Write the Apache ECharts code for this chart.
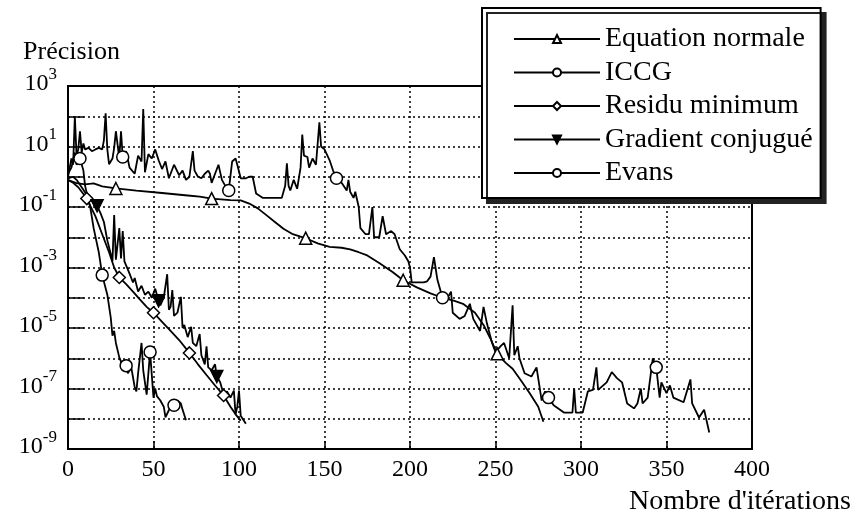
<!DOCTYPE html>
<html>
<head>
<meta charset="utf-8">
<script src="https://cdn.jsdelivr.net/npm/echarts@6/dist/echarts.min.js"></script>
<style>
  html, body { margin: 0; padding: 0; background: #fff; }
  #chart { width: 855px; height: 513px; }
</style>
</head>
<body>
<div id="chart"></div>
<script>
// Convergence history: precision vs iteration count for five solvers.
const seriesNames = ['Equation normale', 'ICCG', 'Residu minimum', 'Gradient conjugué', 'Evans'];

// Iteration ticks and the decades that carry a label.
const xTicks = [0, 50, 100, 150, 200, 250, 300, 350, 400];
const yLabelExponents = [3, 1, -1, -3, -5, -7, -9];

// [iteration, precision] pairs, plus the iterations that carry a marker.
const equationNormale = [[0,0.78],[5,0.62],[10,0.56],[15,0.6],[20,0.48],[28,0.41],[40,0.35],[55,0.29],[70,0.24],[77,0.22],[84,0.19],[95,0.17],[101,0.166],[106,0.13],[111,0.09],[116,0.054],[121,0.032],[126,0.019],[131,0.013],[136,0.0105],[139,0.0093],[146,6.3e-3],[153,4.8e-3],[160,4.5e-3],[165,4e-3],[170,3.2e-3],[175,2.5e-3],[182,1.4e-3],[190,7e-4],[196,3.8e-4],[204,2.2e-4],[212,1.4e-4],[219,1e-4],[226,7.9e-5],[231,6.3e-5],[238,3.2e-5],[243,1.26e-5],[247,4.5e-6],[251,1.4e-6],[256,7e-7],[260,4.5e-7],[265,1.8e-7],[270,7e-8],[275,2.5e-8],[278,8e-9]];
const equationMarks = [28, 84, 139, 196, 251];

const iccg = [[0,1.26],[2,2],[4,6.3],[5,2.5],[7,4],[9,1.6],[10,0.5],[12,0.16],[13,0.1],[15,0.02],[18,3.2e-3],[20,5.6e-4],[23,1.26e-4],[25,2.2e-5],[26,5.6e-6],[27,8e-6],[28,3.2e-6],[30,1.07e-6],[32,5.6e-7],[34,5.7e-7],[35,3.2e-7],[37,5e-7],[39,1.12e-7],[40,8e-8],[41,3.2e-7],[43,3.2e-6],[44,4e-7],[46,6.3e-8],[48,1.6e-6],[50,5e-8],[51,1e-7],[52,5.6e-8],[54,4e-8],[56,2.5e-8],[57,1.12e-8],[60,2.5e-8],[62,2.8e-8],[64,4e-8],[66,3.2e-8],[67,2e-8],[69,8.9e-9]];
const iccgMarks = [7, 20, 34, 48, 62];

const residuMinimum = [[0,0.79],[3,0.63],[6,0.45],[8,0.32],[11,0.19],[13,0.11],[16,0.05],[20,0.0126],[24,3.2e-3],[27,1e-3],[30,4.7e-4],[34,2.8e-4],[38,1.6e-4],[42,8.9e-5],[46,5e-5],[50,3.2e-5],[55,1.6e-5],[60,8e-6],[65,4e-6],[71,1.5e-6],[76,6.3e-7],[81,2.8e-7],[86,1.26e-7],[91,5.9e-8],[95,2.5e-8],[98,1.4e-8],[101,8.7e-9]];
const residuMarks = [11, 30, 50, 71, 91];

const gradientConjugue = [[0,0.89],[3,1],[5,0.79],[8,0.45],[11,0.25],[14,0.16],[17,0.11],[19,0.063],[21,0.032],[23,7.9e-3],[25,2.8e-3],[26,1.6e-3],[27,0.054],[28,1.8e-3],[30,0.02],[31,2e-3],[32,0.016],[33,1.6e-3],[36,6.3e-4],[38,3.2e-4],[39,4.5e-4],[41,1.6e-4],[43,2.5e-4],[45,1.26e-4],[47,1.6e-4],[49,1e-4],[51,2e-4],[53,7.9e-5],[54,5.6e-5],[56,1e-4],[58,6e-4],[59,4e-5],[60,5e-5],[61,1.8e-4],[62,2.5e-5],[64,3.2e-5],[66,1.07e-4],[67,1e-5],[68,1.26e-5],[70,5e-6],[72,1.1e-5],[73,3.2e-6],[75,2.5e-6],[77,6.3e-6],[78,1.26e-6],[80,6.3e-7],[81,2.5e-6],[82,5e-7],[84,4e-7],[86,6.3e-7],[87,2.5e-7],[89,1.6e-7],[91,6.3e-8],[93,8e-8],[95,5e-8],[97,8.5e-8],[98,1.4e-8],[99,2.5e-8],[100,8.5e-8],[101,1.26e-8],[104,6.8e-9]];
const gradientMarks = [17, 53, 87];

const evans = [[0,1],[1,2],[2,4],[3,2.5],[4,100],[5,5],[6,8],[7,32],[8,6.3],[9,12.6],[10,8],[12,9],[14,7],[16,8],[18,9],[20,8],[21,16],[22,126],[23,8],[24,2.6],[26,4],[27,9],[28,32],[30,4],[31,32],[32,4.5],[34,7],[36,2],[39,1.26],[41,5],[43,3.2],[44,174],[45,1.4],[47,5.6],[49,4],[51,8],[53,3.5],[55,1.8],[57,3.2],[59,0.89],[62,2.5],[65,1.12],[67,1.6],[69,0.79],[71,1],[73,7],[74,1.6],[76,1],[78,0.89],[80,1.26],[82,1.6],[83,1.26],[84,0.63],[86,1.26],[88,2.5],[90,0.79],[92,0.5],[94,0.35],[96,3.2],[98,4],[99,2.5],[101,0.89],[104,0.89],[106,1],[108,1],[110,0.28],[114,0.2],[118,0.2],[122,0.2],[125,0.2],[127,0.5],[128,2.8],[129,0.5],[130,0.35],[132,0.79],[134,0.4],[136,2],[137,25],[138,5],[140,4.5],[141,2],[143,4],[145,2.5],[147,63],[148,10],[150,8],[153,3.5],[155,1.6],[157,0.89],[160,0.63],[163,0.35],[164,0.79],[165,0.32],[167,0.2],[168,0.32],[170,0.1],[171,0.02],[174,0.0126],[176,0.0126],[178,0.1],[179,0.01],[182,0.01],[184,0.05],[186,0.0126],[189,0.016],[191,0.0126],[194,4e-3],[197,2.5e-3],[199,1.6e-3],[200,1e-3],[201,3.2e-4],[204,3.2e-4],[208,3.2e-4],[210,3.5e-4],[212,5e-4],[214,2.2e-3],[216,4e-4],[219,1e-4],[222,1e-4],[224,1.6e-4],[225,3.2e-5],[229,2e-5],[232,2.5e-5],[235,6.3e-5],[237,2e-5],[241,8e-6],[243,5e-5],[245,1.4e-5],[248,3.2e-6],[250,1.6e-6],[253,2.5e-6],[255,3.2e-6],[258,1e-6],[260,5.6e-5],[261,1.26e-6],[263,2.5e-6],[264,1e-6],[267,3.2e-7],[271,2.5e-7],[274,5e-7],[277,4e-8],[279,8e-8],[281,5e-8],[284,2.8e-8],[290,1.6e-8],[295,1.6e-8],[296,1e-7],[297,1.6e-8],[301,1.6e-8],[304,8e-8],[307,9e-8],[309,5e-7],[310,9e-8],[315,1.6e-7],[318,3.5e-7],[321,2.2e-7],[324,1.6e-7],[327,3.2e-8],[331,2.2e-8],[333,3.2e-8],[335,1e-7],[336,3.2e-8],[339,5e-8],[342,1e-6],[344,5e-7],[346,5e-8],[347,1.6e-7],[350,7e-8],[352,1.26e-7],[354,5e-8],[360,3.5e-8],[364,2e-7],[365,3.2e-8],[369,1.1e-8],[372,2e-8],[375,3.5e-9]];
const evansMarks = [32, 94, 157, 219, 281, 344];

const FONT = 'Liberation Serif';

// Only the marked iterations show a symbol; every other point is a bare vertex.
function withMarks(points, marks) {
  return points.map(p => marks.includes(p[0]) ? { value: p } : { value: p, symbol: 'none' });
}

function lineSeries(name, points, marks, symbol, fill, rotate) {
  return {
    name: name,
    type: 'line',
    data: withMarks(points, marks),
    symbol: symbol,
    symbolSize: 12,
    symbolRotate: rotate || 0,
    showSymbol: true,
    lineStyle: { color: '#000', width: 1.8 },
    itemStyle: { color: fill, borderColor: '#000', borderWidth: 1.5 },
    emphasis: { disabled: true },
    animation: false
  };
}

const chart = echarts.init(document.getElementById('chart'), null, { renderer: 'canvas' });

chart.setOption({
  backgroundColor: '#fff',
  animation: false,
  grid: {
    left: 68, right: 103, top: 86, bottom: 64,
    show: true, borderColor: '#000', borderWidth: 2, backgroundColor: 'transparent',
    outerBoundsMode: 'none'
  },
  legend: {
    orient: 'vertical',
    left: 482, top: 8,
    padding: [17, 8, 11, 31],
    itemWidth: 86, itemHeight: 10, itemGap: 5.5,
    backgroundColor: '#fff', borderColor: '#000', borderWidth: 2,
    shadowColor: '#222', shadowBlur: 0, shadowOffsetX: 5, shadowOffsetY: 5,
    selectedMode: false,
    textStyle: { fontFamily: FONT, fontSize: 28, color: '#000', lineHeight: 27 },
    data: seriesNames
  },
  xAxis: {
    type: 'value',
    min: xTicks[0], max: xTicks[xTicks.length - 1], interval: 50,
    name: "Nombre d'itérations",
    nameLocation: 'end', nameGap: 99, nameMoveOverlap: false,
    nameTextStyle: { fontFamily: FONT, fontSize: 28, color: '#000', align: 'right', verticalAlign: 'top', padding: [39, 0, 0, 0] },
    axisLine: { show: true, lineStyle: { color: '#000', width: 2 } },
    axisTick: { show: true, inside: true, length: 8, lineStyle: { color: '#000', width: 1.5 } },
    axisLabel: { fontFamily: FONT, fontSize: 24, color: '#000', margin: 9 },
    splitLine: { show: true, lineStyle: { color: '#000', width: 1.5, type: [2, 3] } }
  },
  yAxis: {
    type: 'log', logBase: 10,
    min: 1e-9, max: 1e3, interval: 1,
    name: 'Précision',
    nameLocation: 'end', nameGap: 34, nameMoveOverlap: false,
    nameTextStyle: { fontFamily: FONT, fontSize: 26, color: '#000', align: 'center', verticalAlign: 'middle', padding: [0, 0, 0, 7] },
    axisLine: { show: true, lineStyle: { color: '#000', width: 2 } },
    axisTick: { show: true, inside: true, length: 16, lineStyle: { color: '#000', width: 1.5 } },
    axisLabel: {
      margin: 11,
      padding: [0, 0, 10, 0],
      formatter: function (v) {
        const e = Math.round(Math.log10(v));
        if (!yLabelExponents.includes(e)) return '';
        return '{b|10}{s|' + e + '}';
      },
      rich: {
        b: { fontFamily: FONT, fontSize: 24, color: '#000', lineHeight: 30, verticalAlign: 'bottom' },
        s: { fontFamily: FONT, fontSize: 17, color: '#000', lineHeight: 17, verticalAlign: 'top' }
      }
    },
    splitLine: { show: true, lineStyle: { color: '#000', width: 1.5, type: [2, 3] } }
  },
  series: [
    lineSeries(seriesNames[0], equationNormale, equationMarks, 'triangle', '#fff'),
    lineSeries(seriesNames[1], iccg, iccgMarks, 'circle', '#fff'),
    lineSeries(seriesNames[2], residuMinimum, residuMarks, 'diamond', '#fff'),
    lineSeries(seriesNames[3], gradientConjugue, gradientMarks, 'triangle', '#000', 180),
    lineSeries(seriesNames[4], evans, evansMarks, 'circle', '#fff')
  ]
});
</script>
</body>
</html>
